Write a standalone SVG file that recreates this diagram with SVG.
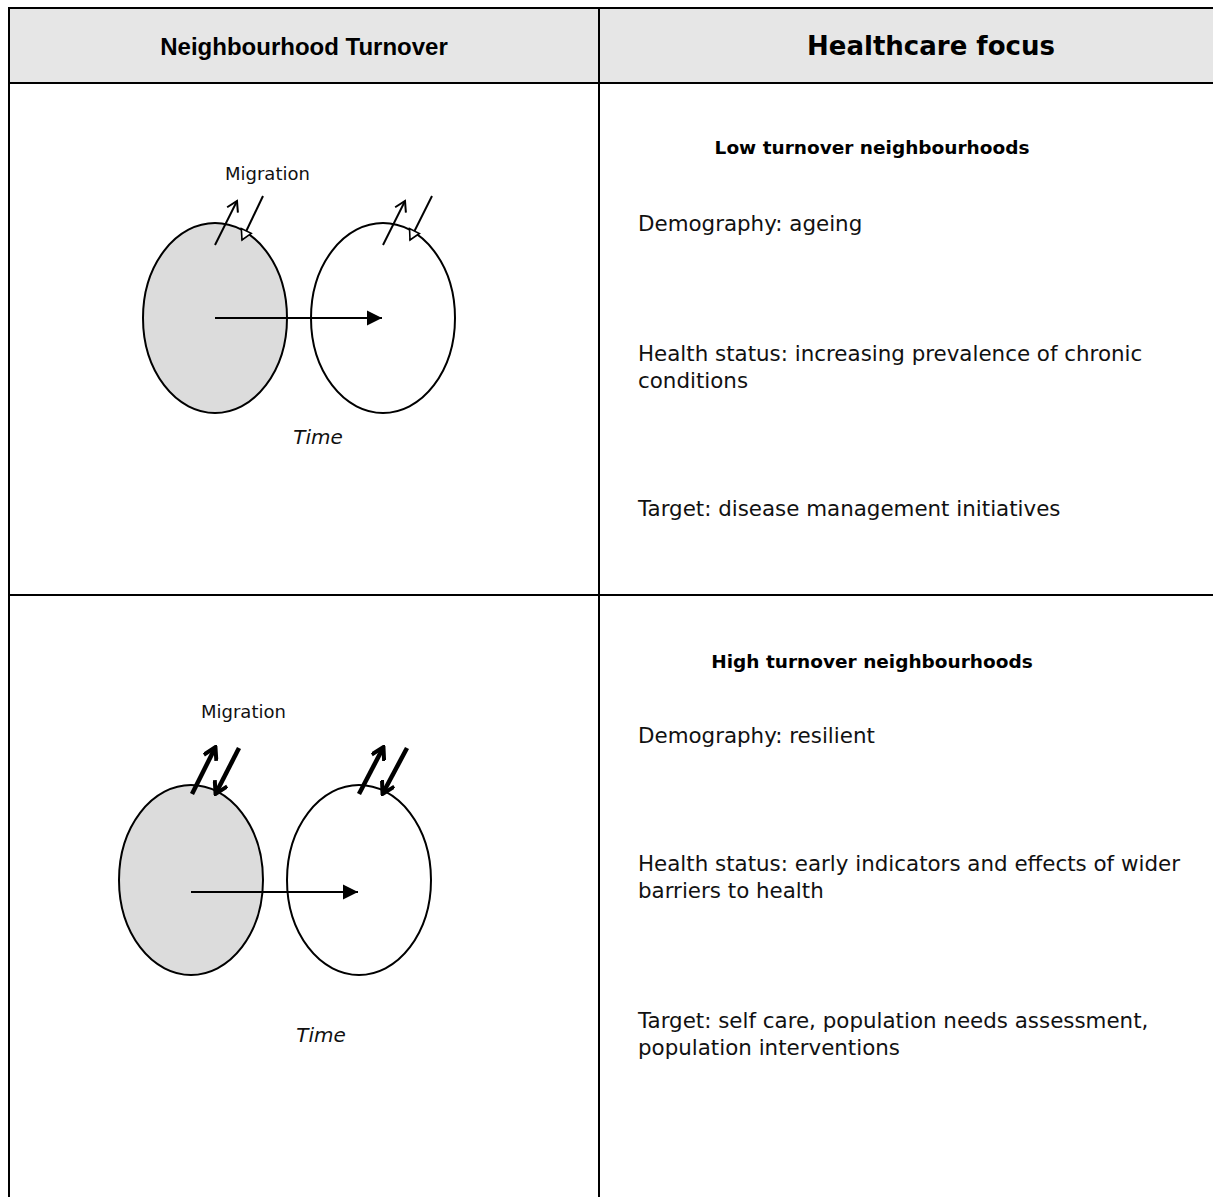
<svg xmlns="http://www.w3.org/2000/svg" width="1213" height="1197" viewBox="0 0 1213 1197">
<style>
.grid{stroke:#000;stroke-width:2;fill:none}
.hdr{font-family:"DejaVu Sans",Verdana,sans-serif;font-weight:bold;font-size:26px;fill:#000}
.hdrA{font-family:"Liberation Sans",Arial,sans-serif;font-weight:bold;font-size:24px;fill:#000}
.sub{font-family:"DejaVu Sans",Verdana,sans-serif;font-weight:bold;font-size:18.5px;fill:#000}
.body{font-family:"DejaVu Sans",Verdana,sans-serif;font-size:21.4px;fill:#111}
.mig{font-family:"DejaVu Sans",Verdana,sans-serif;font-size:18px;fill:#111}
.time{font-family:"DejaVu Sans",Verdana,sans-serif;font-style:italic;font-size:20px;fill:#111}
.ell{stroke:#000;stroke-width:2}
.thin{stroke:#000;stroke-width:2;fill:none}
.thick{stroke:#000;stroke-width:4.5;fill:none}
</style>
<defs>
<marker id="solid" markerWidth="16" markerHeight="16" refX="15" refY="8" orient="auto" markerUnits="userSpaceOnUse" viewBox="0 0 16 16">
<path d="M0,0.5 L15,8 L0,15.5 z" fill="#000"/>
</marker>
<marker id="vee" markerWidth="14" markerHeight="14" refX="12" refY="7" orient="auto" markerUnits="userSpaceOnUse" viewBox="0 0 14 14">
<path d="M2,1 L12,7 L2,13" fill="none" stroke="#000" stroke-width="2"/>
</marker>
<marker id="hollow" markerWidth="14" markerHeight="14" refX="12" refY="7" orient="auto" markerUnits="userSpaceOnUse" viewBox="0 0 14 14">
<path d="M2,1.5 L12,7 L2,12.5 z" fill="#fff" stroke="#000" stroke-width="1.6"/>
</marker>
<marker id="veeB" markerWidth="16" markerHeight="16" refX="13" refY="8" orient="auto" markerUnits="userSpaceOnUse" viewBox="0 0 16 16">
<path d="M2,1 L14,8 L2,15" fill="none" stroke="#000" stroke-width="4"/>
</marker>
</defs>
<rect x="0" y="0" width="1213" height="1197" fill="#fff"/>
<g id="table">
<rect x="9" y="8" width="1204" height="75" fill="#e6e6e6"/>
<line class="grid" x1="8" y1="8" x2="1213" y2="8"/>
<line class="grid" x1="9" y1="7" x2="9" y2="1197"/>
<line class="grid" x1="599" y1="7" x2="599" y2="1197"/>
<line class="grid" x1="8" y1="83" x2="1213" y2="83"/>
<line class="grid" x1="8" y1="595" x2="1213" y2="595"/>
</g>
<g id="header-left"><text class="hdrA" x="304" y="55" text-anchor="middle">Neighbourhood Turnover</text></g>
<g id="header-right"><text class="hdr" x="931" y="55" text-anchor="middle">Healthcare focus</text></g>
<g id="row1-left">
<text class="mig" x="225" y="180">Migration</text>
<ellipse id="r1-before" class="ell" cx="215" cy="318" rx="72" ry="95" fill="#dcdcdc"/>
<ellipse id="r1-after" class="ell" cx="383" cy="318" rx="72" ry="95" fill="#fff"/>
<text class="time" x="318" y="444" text-anchor="middle">Time</text>
</g>
<g id="row2-left">
<text class="mig" x="201" y="718">Migration</text>
<ellipse id="r2-before" class="ell" cx="191" cy="880" rx="72" ry="95" fill="#dcdcdc"/>
<ellipse id="r2-after" class="ell" cx="359" cy="880" rx="72" ry="95" fill="#fff"/>
<text class="time" x="321" y="1042" text-anchor="middle">Time</text>
</g>
<g id="connectors">
<line class="thin" x1="215" y1="318" x2="382" y2="318" marker-end="url(#solid)"/>
<line class="thin" x1="215" y1="245" x2="237" y2="201" marker-end="url(#vee)"/>
<line class="thin" x1="263" y1="196" x2="242" y2="240" marker-end="url(#hollow)"/>
<line class="thin" x1="383" y1="245" x2="405" y2="201" marker-end="url(#vee)"/>
<line class="thin" x1="432" y1="196" x2="410" y2="240" marker-end="url(#hollow)"/>
<line class="thin" x1="191" y1="892" x2="358" y2="892" marker-end="url(#solid)"/>
<line class="thick" x1="192" y1="794" x2="215" y2="748" marker-end="url(#veeB)"/>
<line class="thick" x1="239" y1="748" x2="216" y2="793" marker-end="url(#veeB)"/>
<line class="thick" x1="359" y1="794" x2="383" y2="748" marker-end="url(#veeB)"/>
<line class="thick" x1="407" y1="748" x2="383" y2="793" marker-end="url(#veeB)"/>
</g>
<g id="row1-right">
<text class="sub" x="872" y="154" text-anchor="middle">Low turnover neighbourhoods</text>
<text class="body" x="638" y="231">Demography: ageing</text>
<text class="body" x="638" y="361">Health status: increasing prevalence of chronic</text>
<text class="body" x="638" y="388">conditions</text>
<text class="body" x="638" y="516">Target: disease management initiatives</text>
</g>
<g id="row2-right">
<text class="sub" x="872" y="668" text-anchor="middle">High turnover neighbourhoods</text>
<text class="body" x="638" y="743">Demography: resilient</text>
<text class="body" x="638" y="871">Health status: early indicators and effects of wider</text>
<text class="body" x="638" y="898">barriers to health</text>
<text class="body" x="638" y="1028">Target: self care, population needs assessment,</text>
<text class="body" x="638" y="1055">population interventions</text>
</g>
</svg>
